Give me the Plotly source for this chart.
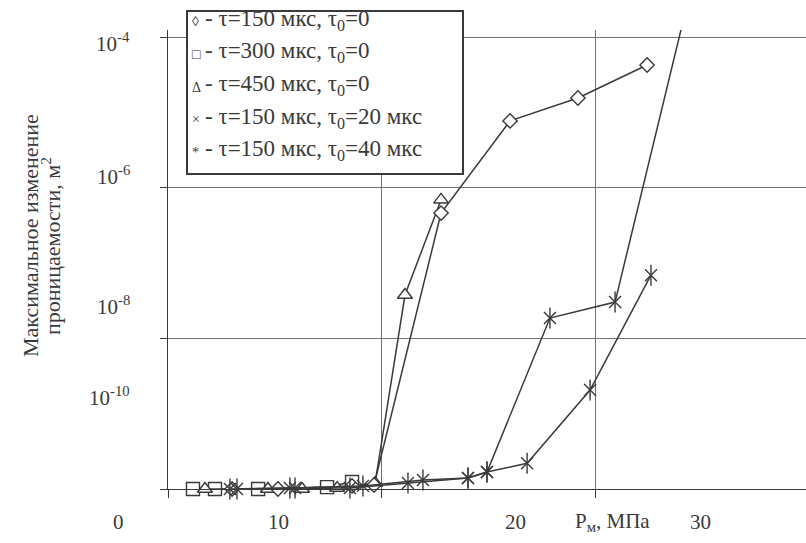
import plotly.graph_objects as go

# Pressure P_m (MPa) and maximum permeability change (m^2) per regime
p_t150 = [8.00, 10.15, 13.62, 14.65, 17.79, 21.02, 24.20, 27.44]
k_t150 = [1.0e-10, 1.0e-10, 1.1e-10, 1.13e-10, 4.6e-7, 7.7e-6, 1.55e-5, 4.25e-5]

p_t300 = [6.17, 7.20, 9.22, 12.45, 13.62]
k_t300 = [1.0e-10, 1.0e-10, 1.0e-10, 1.06e-10, 1.24e-10]

p_t450 = [6.73, 9.68, 11.28, 12.92, 14.70, 16.10, 17.79]
k_t450 = [1.0e-10, 1.0e-10, 1.0e-10, 1.03e-10, 1.2e-10, 3.76e-8, 6.9e-7]

p_d20 = [7.90, 10.71, 13.52, 16.24, 19.05, 19.94, 22.89, 25.94, 29.8]
k_d20 = [1.0e-10, 1.03e-10, 1.03e-10, 1.2e-10, 1.4e-10, 1.68e-10, 1.86e-8, 3.03e-8, 1.0e-3]

p_d40 = [8.23, 10.95, 14.13, 16.94, 19.05, 19.94, 21.82, 24.77, 27.62]
k_d40 = [1.0e-10, 1.03e-10, 1.1e-10, 1.32e-10, 1.4e-10, 1.68e-10, 2.2e-10, 2.06e-9, 6.9e-8]

legend_marks = ["◊", "□", "Δ", "×", "*"]
legend_rows = [
    "τ=150 мкс, τ<sub>0</sub>=0",
    "τ=300 мкс, τ<sub>0</sub>=0",
    "τ=450 мкс, τ<sub>0</sub>=0",
    "τ=150 мкс, τ<sub>0</sub>=20 мкс",
    "τ=150 мкс, τ<sub>0</sub>=40 мкс",
]
y_tick_text = ["10<sup>-4</sup>", "10<sup>-6</sup>", "10<sup>-8</sup>", "10<sup>-10</sup>"]
x_tick_text = ["0", "10", "20", "P<sub>м</sub>, МПа", "30"]
y_title = ["Максимальное изменение", "проницаемости, м<sup>2</sup>"]

W, H = 806, 543
L, R, T, B = 168, 0, 30, 54
PW, PH = W - L - R, H - T - B

INK = "#3a3a3a"
GRID = "#707070"
SERIF = "Liberation Serif, Times New Roman, serif"


def fx(px):
    return (px - L) / PW


def fy(py):
    return (H - B - py) / PH


fig = go.Figure()


def add_series(x, y, symbol, size, fill="white"):
    fig.add_trace(go.Scatter(
        x=x, y=y, mode="lines+markers", showlegend=False, cliponaxis=False,
        line=dict(color=INK, width=1.5),
        marker=dict(symbol=symbol, size=size, color=fill,
                    line=dict(color=INK, width=1.4)),
    ))


def add_star_bar(x, y, size):
    fig.add_trace(go.Scatter(
        x=x, y=y, mode="markers", showlegend=False, cliponaxis=False,
        marker=dict(symbol="line-ns-open", size=size, color=INK,
                    line=dict(color=INK, width=1.4)),
    ))


add_series(p_t300, k_t300, "square", 13)
add_series(p_t450, k_t450, "triangle-up", 13)
add_series(p_t150, k_t150, "diamond", 11)
add_series(p_d20, k_d20, "x-thin-open", 12, fill=INK)
add_star_bar(p_d20, k_d20, 15)
add_series(p_d40, k_d40, "x-thin-open", 12, fill=INK)
add_star_bar(p_d40, k_d40, 15)

fig.update_xaxes(
    range=[5, 5 + PW / 21.35], showgrid=False, zeroline=False,
    showline=True, linecolor=INK, linewidth=1,
    tickmode="array", tickvals=[5, 15, 25], ticks="outside", ticklen=8,
    tickcolor=INK, tickwidth=1, showticklabels=False,
    minor=dict(tickvals=[15, 25], showgrid=True, gridcolor=GRID, gridwidth=1, ticks=""),
)
fig.update_yaxes(
    type="log", range=[-10, -10 + PH / 75.33], showgrid=True, gridcolor=GRID,
    gridwidth=1, zeroline=False, showline=True, linecolor=INK, linewidth=1,
    tickmode="array", tickvals=[1e-10, 1e-8, 1e-6, 1e-4], ticks="outside",
    ticklen=7, tickcolor=INK, tickwidth=1, showticklabels=False,
)

annotations = []
# Y-axis tick labels
for txt, py in zip(y_tick_text, [42, 175, 305, 396]):
    annotations.append(dict(xref="paper", yref="paper", x=fx(132), y=fy(py),
                            xanchor="right", yanchor="middle", text=txt, showarrow=False,
                            font=dict(family=SERIF, size=21, color=INK)))
# X-axis labels
for txt, px in zip(x_tick_text, [118, 278, 515, 612, 700]):
    annotations.append(dict(xref="paper", yref="paper", x=fx(px), y=fy(522),
                            xanchor="center", yanchor="middle", text=txt, showarrow=False,
                            font=dict(family=SERIF, size=21, color=INK)))
# Y-axis title, two rotated lines
for txt, px, py in zip(y_title, [30, 51], [236, 246]):
    annotations.append(dict(xref="paper", yref="paper", x=fx(px), y=fy(py),
                            xanchor="center", yanchor="middle", textangle=-90,
                            showarrow=False, text=txt,
                            font=dict(family=SERIF, size=22, color=INK)))
# Legend rows: small mark glyph, then the description
for mark, txt, py in zip(legend_marks, legend_rows, [20, 52, 85, 118, 150]):
    annotations.append(dict(xref="paper", yref="paper", x=fx(190), y=fy(py + 2),
                            xanchor="left", yanchor="middle", showarrow=False,
                            text=mark, font=dict(family=SERIF, size=14, color=INK)))
    annotations.append(dict(xref="paper", yref="paper", x=fx(203), y=fy(py),
                            xanchor="left", yanchor="middle", showarrow=False,
                            text="- " + txt,
                            font=dict(family=SERIF, size=23, color=INK)))

fig.update_layout(
    width=W, height=H, autosize=False,
    margin=dict(l=L, r=R, t=T, b=B),
    paper_bgcolor="white", plot_bgcolor="white",
    annotations=annotations,
    shapes=[dict(type="rect", xref="paper", yref="paper",
                 x0=fx(187), x1=fx(463), y0=fy(174), y1=fy(11),
                 line=dict(color=INK, width=2), fillcolor="white", layer="above")],
)

fig.write_html("out.html")
